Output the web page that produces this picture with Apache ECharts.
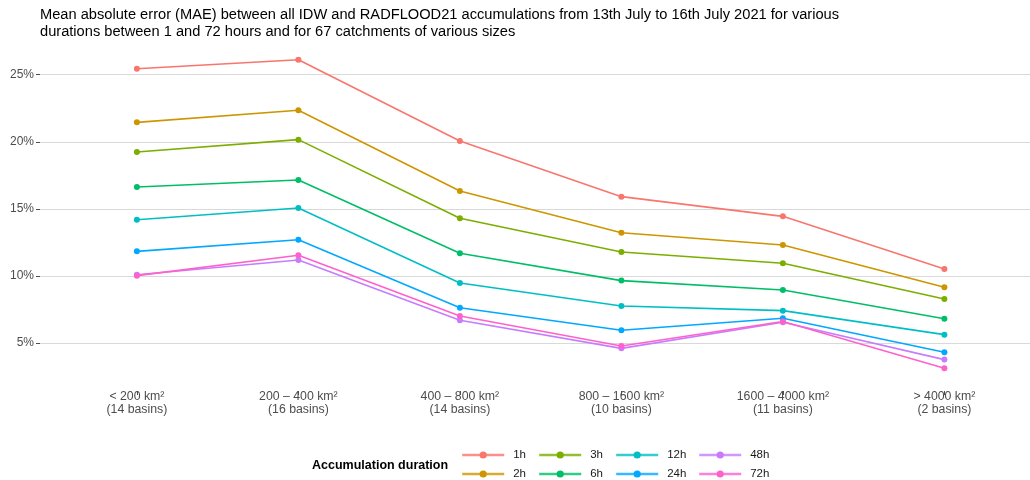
<!DOCTYPE html>
<html>
<head>
<meta charset="utf-8">
<script src="https://cdn.jsdelivr.net/npm/echarts@6/dist/echarts.min.js"></script>
<style>
  html, body { margin: 0; padding: 0; background: #fff; }
  #chart { width: 1030px; height: 480px; }
</style>
</head>
<body>
<div id="chart"></div>
<script>
const categories = [
  "< 200 km²\n(14 basins)",
  "200 – 400 km²\n(16 basins)",
  "400 – 800 km²\n(14 basins)",
  "800 – 1600 km²\n(10 basins)",
  "1600 – 4000 km²\n(11 basins)",
  "> 4000 km²\n(2 basins)"
];

const durations = ["1h", "2h", "3h", "6h", "12h", "24h", "48h", "72h"];
const colors    = ["#F8766D", "#CD9600", "#7CAE00", "#00BE67", "#00BFC4", "#00A9FF", "#C77CFF", "#FF61CC"];

// MAE in %, one value per catchment size class
const mae_1h  = [25.45, 26.12, 20.06, 15.91, 14.44, 10.52];
const mae_2h  = [21.45, 22.35, 16.33, 13.22, 12.31, 9.15];
const mae_3h  = [19.24, 20.16, 14.30, 11.78, 10.94, 8.28];
const mae_6h  = [16.63, 17.15, 11.69, 9.65, 8.95, 6.81];
const mae_12h = [14.19, 15.06, 9.47, 7.76, 7.41, 5.62];
const mae_24h = [11.83, 12.70, 7.63, 5.95, 6.84, 4.31];
const mae_48h = [10.09, 11.19, 6.69, 4.60, 6.55, 3.76];
const mae_72h = [10.02, 11.54, 7.01, 4.78, 6.60, 3.11];

const allValues = [mae_1h, mae_2h, mae_3h, mae_6h, mae_12h, mae_24h, mae_48h, mae_72h];

const positions = categories.map((c, i) => i + 1);
const yTicks    = [5, 10, 15, 20, 25];

let series = durations.map((name, k) => ({
  name: name,
  type: "line",
  data: allValues[k].map((v, i) => [positions[i], v]),
  symbol: "circle",
  symbolSize: 6,
  lineStyle: { width: 1.6, color: colors[k] },
  itemStyle: { color: colors[k] },
  z: 10 + k,
}));

// legend: 4 columns x 2 rows, filled by column, one component per key
const legendLefts = [461, 538, 615, 698];
const legendTops  = [449, 468];
let legends = durations.map((name, k) => ({
  data: [name],
  left: legendLefts[Math.floor(k / 2)],
  top: legendTops[k % 2],
  itemWidth: 42,
  itemHeight: 9,
  padding: 0,
  lineStyle: { width: 2.4, opacity: 0.8 },
  textStyle: { fontFamily: "Liberation Sans", fontSize: 11.5, color: "#1a1a1a", padding: [0, 0, 0, 4] },
  selectedMode: false,
}));

let chart = echarts.init(document.getElementById("chart"), null, { renderer: "canvas" });

chart.setOption({
  animation: false,
  backgroundColor: "#ffffff",
  textStyle: { fontFamily: "Liberation Sans" },
  title: [
    {
      text: "Mean absolute error (MAE) between all IDW and RADFLOOD21 accumulations from 13th July to 16th July 2021 for various\ndurations between 1 and 72 hours and for 67 catchments of various sizes",
      left: 40,
      top: 7,
      padding: 0,
      textStyle: { fontFamily: "Liberation Sans", fontSize: 14.65, fontWeight: "normal", color: "#000", lineHeight: 16.5 },
    },
    {
      text: "Accumulation duration",
      left: 312,
      top: 459,
      padding: 0,
      textStyle: { fontFamily: "Liberation Sans", fontSize: 12.5, fontWeight: "bold", color: "#000" },
    },
  ],
  legend: legends,
  grid: { left: 40, right: 0, top: 44, bottom: 89, containLabel: false },
  xAxis: {
    type: "value",
    min: 0.4,
    max: 6.53,
    axisLine: { show: false },
    splitLine: { show: false },
    axisTick: {
      show: true,
      length: 4,
      customValues: positions,
      lineStyle: { color: "#4d4d4d", width: 1 },
    },
    axisLabel: {
      customValues: positions,
      margin: -1,
      color: "#4d4d4d",
      fontFamily: "Liberation Sans",
      fontSize: 12.3,
      lineHeight: 13,
      formatter: (v) => categories[Math.round(v) - 1],
    },
  },
  yAxis: {
    type: "value",
    min: 1.42,
    max: 27.29,
    axisLine: { show: false },
    axisTick: {
      show: true,
      length: 4,
      customValues: yTicks,
      lineStyle: { color: "#4d4d4d", width: 1 },
    },
    splitLine: { show: true, lineStyle: { color: "#d9d9d9", width: 1.2 } },
    axisLabel: {
      customValues: yTicks,
      margin: 6,
      color: "#4d4d4d",
      fontFamily: "Liberation Sans",
      fontSize: 12,
      formatter: (v) => v + "%",
    },
  },
  series: series,
});
</script>
</body>
</html>
